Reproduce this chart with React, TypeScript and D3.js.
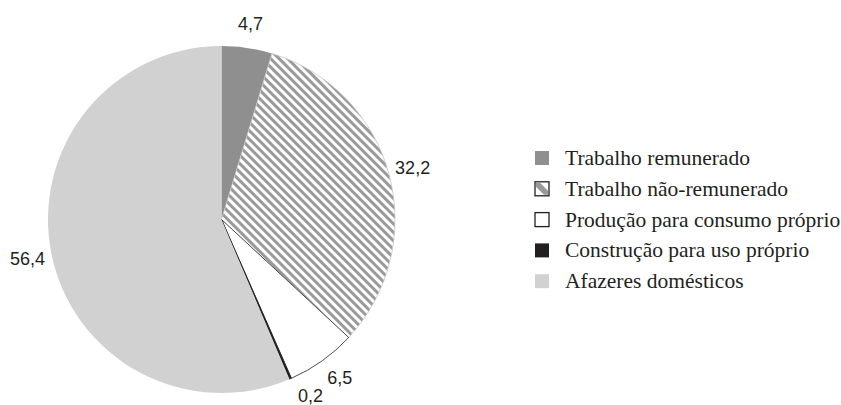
import React from "react";
import * as d3 from "d3";

// Share of time by activity type (%)
const categories = [
  "Trabalho remunerado",
  "Trabalho não-remunerado",
  "Produção para consumo próprio",
  "Construção para uso próprio",
  "Afazeres domésticos",
];
const values = [4.7, 32.2, 6.5, 0.2, 56.4];
const valueLabels = ["4,7", "32,2", "6,5", "0,2", "56,4"];

const W = 841;
const H = 405;
const cx = 221.5;
const cy = 219.5;
const R = 173.5;
const labelR = 198;

const fills = ["#8f8f8f", "url(#hatch)", "#ffffff", "#231f20", "#d1d1d1"];
const strokes = ["none", "#c8c8c8", "#231f20", "#231f20", "none"];

// small nudges so the two neighbouring bottom labels stay apart
const labelNudge: Record<number, [number, number]> = {
  2: [3.5, -3],
  3: [10.5, -5.5],
};

export default function App() {
  const pie = d3
    .pie<number>()
    .sort(null)
    .value((d) => d);
  const arcs = pie(values);
  const arc = d3.arc<d3.PieArcDatum<number>>().innerRadius(0).outerRadius(R);
  const labelArc = d3
    .arc<d3.PieArcDatum<number>>()
    .innerRadius(labelR)
    .outerRadius(labelR);

  const legendX = 535;
  const legendY0 = 158;
  const legendStep = 30.8;
  const sw = 14;

  return (
    <svg
      width={W}
      height={H}
      viewBox={`0 0 ${W} ${H}`}
      style={{ position: "absolute", left: 0, top: 0, background: "#fff" }}
    >
      <defs>
        <pattern
          id="hatch"
          patternUnits="userSpaceOnUse"
          width={6}
          height={6}
          patternTransform="rotate(45)"
        >
          <rect width={6} height={6} fill="#ffffff" />
          <rect x={0} y={0} width={6} height={3} fill="#9a9a9a" />
        </pattern>
      </defs>
      <g transform={`translate(${cx},${cy})`}>
        {arcs.map((a, i) => (
          <path
            key={categories[i]}
            d={arc(a) || ""}
            fill={fills[i]}
            stroke={strokes[i]}
            strokeWidth={i === 3 ? 0.6 : 0.8}
          />
        ))}
        {arcs.map((a, i) => {
          const [x, y] = labelArc.centroid(a);
          const [nx, ny] = labelNudge[i] || [0, 0];
          return (
            <text
              key={"l" + i}
              x={x + nx}
              y={y + ny}
              textAnchor="middle"
              dominantBaseline="central"
              fontFamily="'Liberation Sans', Arial, sans-serif"
              fontSize={18}
              fill="#231f20"
            >
              {valueLabels[i]}
            </text>
          );
        })}
      </g>
      <g>
        {categories.map((c, i) => {
          const y = legendY0 + i * legendStep;
          const x0 = legendX;
          const y0 = y - sw / 2;
          return (
            <g key={"lg" + i}>
              {i === 1 ? (
                <g>
                  <rect
                    x={x0}
                    y={y0}
                    width={sw}
                    height={sw}
                    fill="#ffffff"
                    stroke="#231f20"
                    strokeWidth={1.3}
                  />
                  <path
                    d={`M${x0 + 1},${y0 + 1} L${x0 + 5},${y0 + 1} L${x0 + sw - 1},${y0 + sw - 5} L${x0 + sw - 1},${y0 + sw - 1} L${x0 + sw - 5},${y0 + sw - 1} L${x0 + 1},${y0 + 5} Z`}
                    fill="#9a9a9a"
                  />
                </g>
              ) : (
                <rect
                  x={x0}
                  y={y0}
                  width={sw}
                  height={sw}
                  fill={fills[i]}
                  stroke={i === 2 ? "#231f20" : "none"}
                  strokeWidth={1.3}
                />
              )}
              <text
                x={565}
                y={y + 7}
                fontFamily="'Liberation Serif', 'Times New Roman', serif"
                fontSize={21.5}
                fill="#231f20"
              >
                {c}
              </text>
            </g>
          );
        })}
      </g>
    </svg>
  );
}
